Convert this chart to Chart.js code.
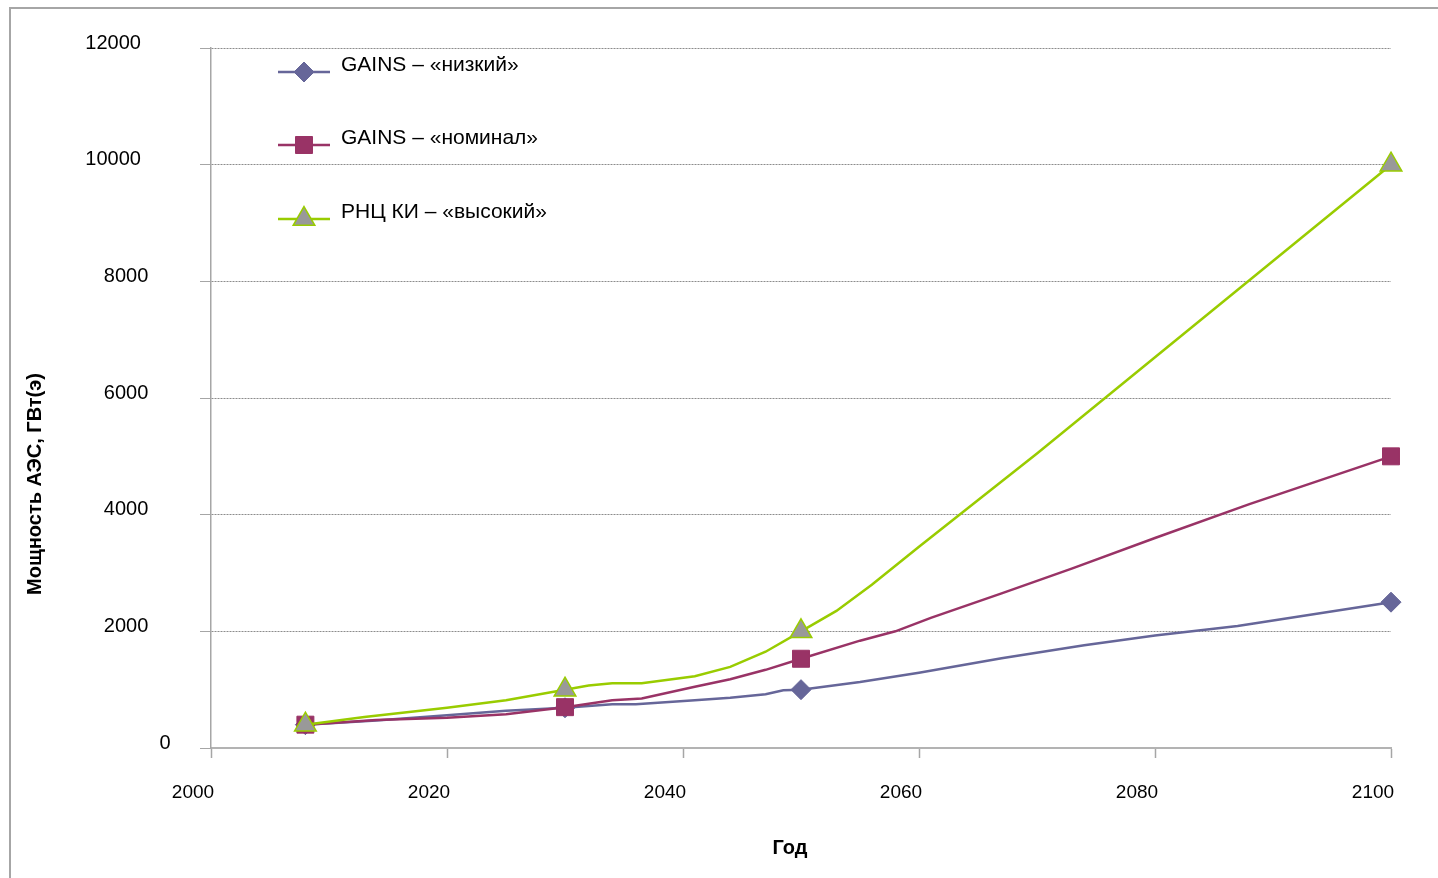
<!DOCTYPE html>
<html>
<head>
<meta charset="utf-8">
<script src="https://cdn.jsdelivr.net/npm/chart.js@4.4.1/dist/chart.umd.min.js"></script>
<style>
  html, body { margin: 0; padding: 0; background: #fff; }
  #wrap { width: 1438px; height: 878px; }
</style>
</head>
<body>
<div id="wrap"><canvas id="c" width="1438" height="878"></canvas></div>
<script>
// ---- data ----
const seriesNames = ['GAINS – «низкий»', 'GAINS – «номинал»', 'РНЦ КИ – «высокий»'];

const lowYears  = [2008, 2014, 2020, 2025, 2030, 2034, 2036, 2041, 2044, 2047, 2048.5, 2050, 2055, 2060, 2067, 2074, 2080, 2087, 2100];
const lowValues = [400, 470, 560, 640, 690, 750, 750, 820, 860, 920, 990, 1000, 1130, 1290, 1540, 1760, 1930, 2090, 2500];

const nomYears  = [2008, 2014, 2020, 2025, 2030, 2034, 2036.5, 2041, 2044, 2047, 2050, 2055, 2058, 2061, 2067, 2073, 2080, 2088, 2100];
const nomValues = [400, 480, 520, 580, 700, 820, 850, 1050, 1180, 1340, 1530, 1840, 2000, 2230, 2650, 3080, 3600, 4180, 5000];

const highYears  = [2008, 2013, 2020, 2025, 2030, 2032, 2034, 2036.5, 2041, 2044, 2047, 2050, 2053, 2056, 2060, 2070, 2080, 2090, 2100];
const highValues = [400, 530, 690, 820, 1000, 1070, 1110, 1110, 1230, 1390, 1650, 2000, 2350, 2800, 3450, 5050, 6700, 8350, 10000];

const markerYears = [2008, 2030, 2050, 2100];

const xTicks = [2000, 2020, 2040, 2060, 2080, 2100];
const yTicks = [0, 2000, 4000, 6000, 8000, 10000, 12000];

const xTitle = 'Год';
const yTitle = 'Мощность АЭС, ГВт(э)';

// ---- build ----
const toPts = (xs, ys) => xs.map((x, i) => ({x: x, y: ys[i]}));
const markerRadius = (r) => (ctx) => (ctx.raw && markerYears.includes(ctx.raw.x)) ? r : 0;

const styles = [
  {color: '#666699', pointStyle: 'rectRot', radius: 10, fill: '#666699', pBorder: '#666699', pBorderW: 1},
  {color: '#993366', pointStyle: 'rect',    radius: 12, fill: '#993366', pBorder: '#993366', pBorderW: 1},
  {color: '#99cc00', pointStyle: 'triangle',radius: 12.5, fill: '#999999', pBorder: '#99cc00', pBorderW: 1.5}
];
const dataSets = [toPts(lowYears, lowValues), toPts(nomYears, nomValues), toPts(highYears, highValues)];

const datasets = dataSets.map((d, i) => ({
  label: seriesNames[i],
  data: d,
  borderColor: styles[i].color,
  borderWidth: 2.5,
  tension: 0,
  pointStyle: styles[i].pointStyle,
  pointRadius: markerRadius(styles[i].radius),
  pointHoverRadius: markerRadius(styles[i].radius),
  pointBackgroundColor: styles[i].fill,
  pointBorderColor: styles[i].pBorder,
  pointBorderWidth: styles[i].pBorderW,
  clip: false,
  order: 3 - i
}));

const FONT = '"Liberation Sans", Arial, sans-serif';

const decor = {
  id: 'decor',
  beforeDraw(chart) {
    const ctx = chart.ctx;
    ctx.save();
    ctx.fillStyle = '#ffffff';
    ctx.fillRect(0, 0, chart.width, chart.height);
    ctx.strokeStyle = '#a6a6a6';
    ctx.lineWidth = 2;
    ctx.beginPath();
    ctx.moveTo(10, chart.height);
    ctx.lineTo(10, 8);
    ctx.lineTo(chart.width, 8);
    ctx.stroke();
    ctx.restore();
  },
  afterDraw(chart) {
    const ctx = chart.ctx;
    const xs = chart.scales.x, ys = chart.scales.y, ca = chart.chartArea;
    ctx.save();
    ctx.fillStyle = '#000';
    // y tick labels
    ctx.font = '20px ' + FONT;
    ctx.textBaseline = 'middle';
    ctx.textAlign = 'left';
    yTicks.forEach(v => {
      const t = String(v);
      const w = ctx.measureText(t).width;
      ctx.fillText(t, ca.left - 33 - 1.667 * w, ys.getPixelForValue(v) - 5);
    });
    // x tick labels
    ctx.font = '19px ' + FONT;
    ctx.textAlign = 'center';
    xTicks.forEach(v => {
      ctx.fillText(String(v), xs.getPixelForValue(v) - 18, ca.bottom + 45);
    });
    // axis titles
    ctx.font = 'bold 20px ' + FONT;
    ctx.fillText(xTitle, 790, 848);
    ctx.save();
    ctx.translate(35, 484);
    ctx.rotate(-Math.PI / 2);
    ctx.fillText(yTitle, 0, 0);
    ctx.restore();
    // legend
    const lx0 = 278, lx1 = 330, tx = 341;
    const ly = [72, 145, 219];
    chart.data.datasets.forEach((ds, i) => {
      const y = ly[i];
      ctx.strokeStyle = ds.borderColor;
      ctx.lineWidth = 2.5;
      ctx.beginPath();
      ctx.moveTo(lx0, y);
      ctx.lineTo(lx1, y);
      ctx.stroke();
      ctx.fillStyle = ds.pointBackgroundColor;
      ctx.strokeStyle = ds.pointBorderColor;
      ctx.lineWidth = ds.pointBorderWidth;
      Chart.helpers.drawPoint(ctx, {pointStyle: ds.pointStyle, radius: styles[i].radius, rotation: 0, borderWidth: ds.pointBorderWidth}, (lx0 + lx1) / 2, y);
      ctx.fillStyle = '#000';
      ctx.font = '21px ' + FONT;
      ctx.textAlign = 'left';
      ctx.textBaseline = 'middle';
      ctx.fillText(ds.label, tx, y - 7);
    });
    ctx.restore();
  }
};

new Chart(document.getElementById('c'), {
  type: 'line',
  data: { datasets: datasets },
  options: {
    responsive: false,
    devicePixelRatio: 1,
    animation: false,
    events: [],
    layout: { padding: { left: 200, top: 48, right: 47, bottom: 120 } },
    plugins: { legend: { display: false }, tooltip: { enabled: false } },
    scales: {
      x: {
        type: 'linear', min: 2000, max: 2100,
        afterBuildTicks: (s) => { s.ticks = xTicks.map(v => ({value: v})); },
        ticks: { display: false },
        grid: { display: true, drawOnChartArea: false, drawTicks: true, tickLength: 10, tickColor: '#a6a6a6', tickWidth: 1.5 },
        border: { display: true, color: '#b3b3b3', width: 2 },
        afterFit: (s) => { s.height = 10; }
      },
      y: {
        type: 'linear', min: 0, max: 12000,
        afterBuildTicks: (s) => { s.ticks = yTicks.map(v => ({value: v})); },
        ticks: { display: false },
        grid: { display: true, drawOnChartArea: true, drawTicks: true, tickLength: 11, color: '#8c8c8c', lineWidth: 1, tickColor: '#a6a6a6', tickWidth: 1, tickBorderDash: [] },
        border: { display: true, color: '#a6a6a6', width: 1.5, dash: [2, 1] },
        afterFit: (s) => { s.width = 11; }
      }
    }
  },
  plugins: [decor]
});
</script>
</body>
</html>
